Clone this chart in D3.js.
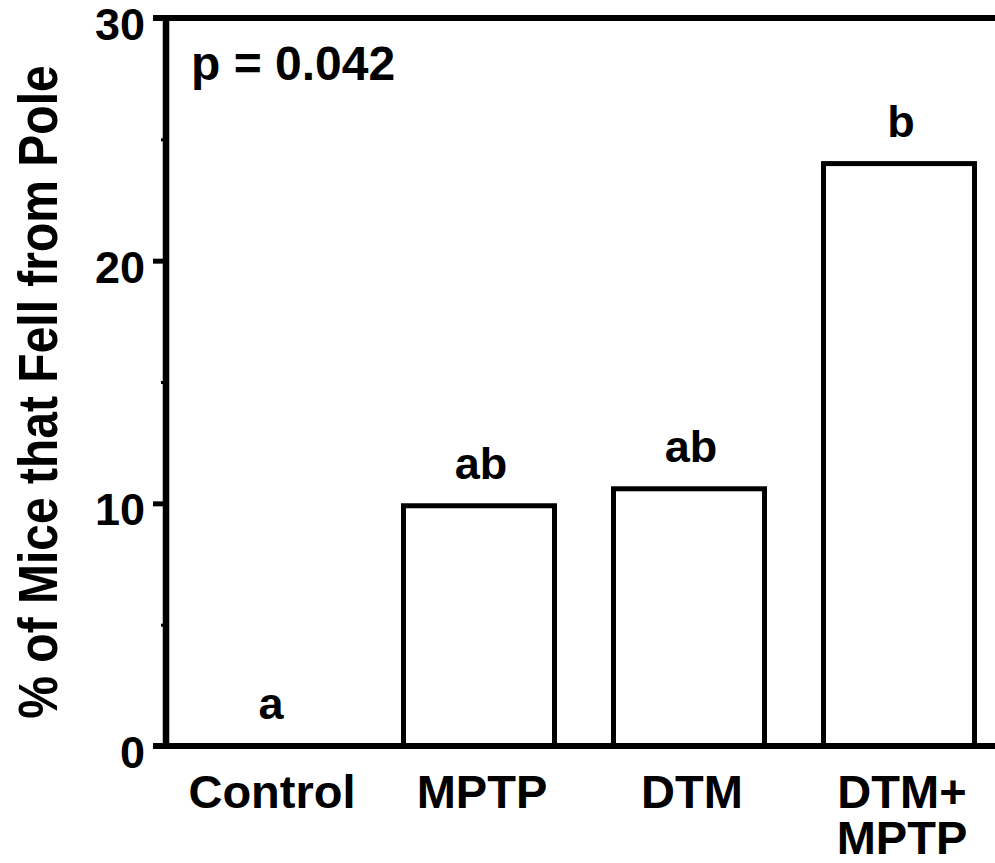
<!DOCTYPE html>
<html>
<head>
<meta charset="utf-8">
<script src="https://cdn.jsdelivr.net/npm/d3@7"></script>
<style>
  html, body { margin: 0; padding: 0; background: #fff; }
  svg { display: block; }
  text { font-family: "Liberation Sans", Arial, Helvetica, sans-serif; font-weight: bold; fill: #000; }
</style>
</head>
<body>
<svg id="chart" width="995" height="863"></svg>
<script>
// Groups, measured percentages and significance letters
const groups = ["Control", "MPTP", "DTM", "DTM+\nMPTP"];
const percentFell = [0, 9.9, 10.6, 24.0];
const sigLetters = ["a", "ab", "ab", "b"];
const majorTicks = [0, 10, 20, 30];
const minorTicks = [5, 15, 25];
const pLabel = "p = 0.042";
const yTitle = "% of Mice that Fell from Pole";

const svg = d3.select("#chart");
const W = 995;
const x0 = 166, yTop = 18, yBot = 746;

const y = d3.scaleLinear().domain([0, 30]).range([yBot, yTop]);
const x = d3.scaleBand()
  .domain(groups)
  .range([x0, 1002])
  .paddingInner(0.281)
  .paddingOuter(0.131);

// Bars (outlined, white fill)
svg.append("g").selectAll("rect")
  .data(groups.filter((g, i) => percentFell[i] > 0))
  .join("rect")
  .attr("x", g => x(g))
  .attr("y", g => y(percentFell[groups.indexOf(g)]))
  .attr("width", x.bandwidth())
  .attr("height", g => y(0) - y(percentFell[groups.indexOf(g)]))
  .attr("fill", "#fff")
  .attr("stroke", "#000")
  .attr("stroke-width", 5);

// Frame: top and bottom lines, left axis line
const frame = svg.append("g").attr("stroke", "#000").attr("stroke-linecap", "butt");
frame.append("line").attr("x1", x0 - 13).attr("x2", W).attr("y1", y(30)).attr("y2", y(30)).attr("stroke-width", 6);
frame.append("line").attr("x1", x0 - 13).attr("x2", W).attr("y1", y(0)).attr("y2", y(0)).attr("stroke-width", 6);
frame.append("line").attr("x1", x0).attr("x2", x0).attr("y1", y(30) - 3).attr("y2", y(0) + 3).attr("stroke-width", 6.5);

// Major ticks with labels
const yAxis = d3.axisLeft(y).tickValues(majorTicks).tickSize(13).tickPadding(8).tickFormat(d3.format("d"));
const gy = svg.append("g").attr("transform", `translate(${x0},0)`).call(yAxis);
gy.select(".domain").remove();
gy.selectAll(".tick line").attr("stroke", "#000").attr("stroke-width", 5);
gy.selectAll(".tick text")
  .attr("font-size", 45)
  .attr("font-family", null)
  .attr("dy", "0.48em");

// Minor ticks
const yMinor = d3.axisLeft(y).tickValues(minorTicks).tickSize(5).tickFormat("");
const gm = svg.append("g").attr("transform", `translate(${x0},0)`).call(yMinor);
gm.select(".domain").remove();
gm.selectAll(".tick line").attr("stroke", "#000").attr("stroke-width", 3);

// Category labels (two-line where needed)
const cat = svg.append("g");
groups.forEach(g => {
  const cx = x(g) + x.bandwidth() / 2 + 3;
  const t = cat.append("text")
    .attr("text-anchor", "middle")
    .attr("font-size", 47)
    .attr("x", cx)
    .attr("y", 808);
  g.split("\n").forEach((ln, i) => {
    t.append("tspan")
      .attr("x", cx)
      .attr("dy", i === 0 ? 0 : 46)
      .text(ln);
  });
});

// Significance letters above each bar
svg.append("g").selectAll("text")
  .data(groups)
  .join("text")
  .attr("text-anchor", "middle")
  .attr("font-size", 45)
  .attr("x", g => x(g) + x.bandwidth() / 2 + 2)
  .attr("y", (g, i) => y(percentFell[i]) - 27)
  .text((g, i) => sigLetters[i]);

// p-value annotation
svg.append("text")
  .attr("x", 191)
  .attr("y", 80)
  .attr("font-size", 48)
  .text(pLabel);

// Y-axis title
svg.append("text")
  .attr("transform", `translate(57,${(y(0) + y(30)) / 2 + 10}) rotate(-90) scale(1,1.15)`)
  .attr("text-anchor", "middle")
  .attr("font-size", 48)
  .text(yTitle);
</script>
</body>
</html>
